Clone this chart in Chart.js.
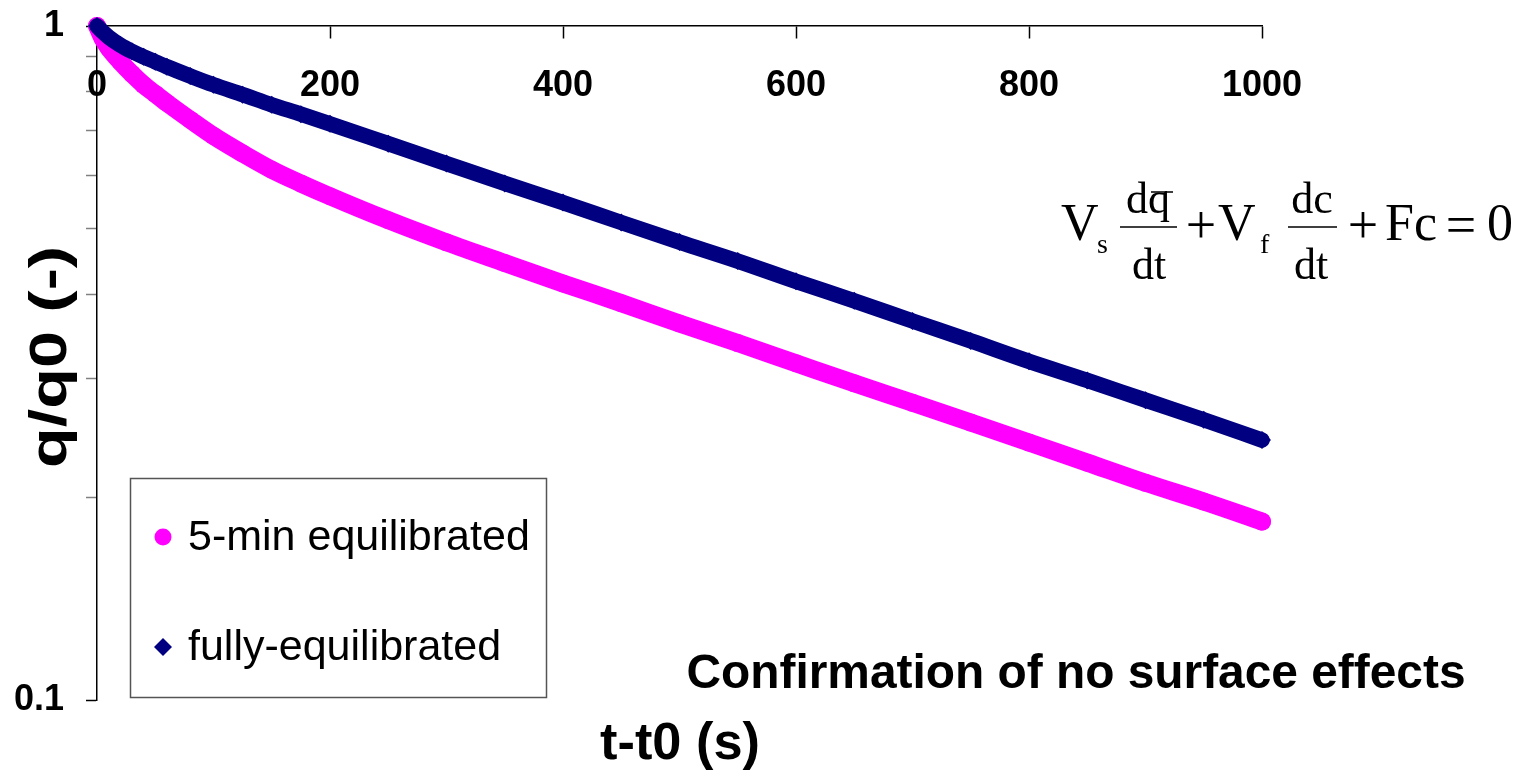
<!DOCTYPE html>
<html>
<head>
<meta charset="utf-8">
<script src="https://cdn.jsdelivr.net/npm/chart.js@4.4.1/dist/chart.umd.min.js"></script>
<style>
  html, body { margin: 0; padding: 0; background: #ffffff; }
  #wrap { width: 1530px; height: 774px; position: relative; }
</style>
</head>
<body>
<div id="wrap"><canvas id="c" width="1530" height="774"></canvas></div>
<script>
// Elapsed time t - t0 (s)
const times = [0, 5, 10, 20, 30, 40, 50, 60, 80, 100, 125, 150, 175, 200, 250, 300, 350, 400, 450, 500, 550, 600, 650, 700, 750, 800, 850, 900, 950, 1000];
// Normalised loading q/q0, 5-min equilibrated sample
const fiveMin = [1.000, 0.957, 0.928, 0.885, 0.849, 0.818, 0.793, 0.769, 0.726, 0.687, 0.647, 0.612, 0.584, 0.559, 0.515, 0.4775, 0.445, 0.415, 0.388, 0.362, 0.3385, 0.316, 0.295, 0.276, 0.258, 0.241, 0.225, 0.210, 0.197, 0.184];
// Normalised loading q/q0, fully-equilibrated sample
const fullyEq = [1.000, 0.980, 0.963, 0.937, 0.917, 0.900, 0.885, 0.870, 0.843, 0.818, 0.791, 0.764, 0.740, 0.716, 0.669, 0.625, 0.584, 0.547, 0.511, 0.478, 0.448, 0.418, 0.391, 0.365, 0.341, 0.318, 0.298, 0.2785, 0.2605, 0.243];

const seriesNames = ['5-min equilibrated', 'fully-equilibrated'];
const xTickValues = [0, 200, 400, 600, 800, 1000];
const yTickValues = [0.1, 0.2, 0.3, 0.4, 0.5, 0.6, 0.7, 0.8, 0.9, 1];
const yLabelled = [0.1, 1];

const PINK = '#ff00ff';
const NAVY = '#000080';
const SANS = '"Liberation Sans", Arial, sans-serif';
const SERIF = '"Liberation Serif", "Times New Roman", serif';

function pairs(xs, ys) { return xs.map((x, i) => ({ x: x, y: ys[i] })); }
function isLabelled(v) { return yLabelled.some(l => Math.abs(l - v) < 1e-9); }

// text centred on (x, y), squeezed or stretched along its run to a given length
function fitText(ctx, text, x, y, length, angle) {
  const w = ctx.measureText(text).width;
  ctx.save();
  ctx.translate(x, y);
  if (angle) ctx.rotate(angle);
  ctx.scale(length / w, 1);
  ctx.textAlign = 'center';
  ctx.textBaseline = 'middle';
  ctx.fillText(text, 0, 0);
  ctx.restore();
}

// Annotations: legend box, axis titles, caption and the balance equation
const overlay = {
  id: 'overlay',
  afterDraw(chart) {
    const ctx = chart.ctx;
    ctx.save();

    // legend
    ctx.strokeStyle = '#555555';
    ctx.lineWidth = 1.5;
    ctx.strokeRect(130.5, 478.5, 416, 219);
    const rows = [537, 647];
    ctx.font = '43px ' + SANS;
    ctx.textBaseline = 'middle';
    ctx.textAlign = 'left';
    rows.forEach((yy, i) => {
      const ds = chart.data.datasets[i];
      ctx.fillStyle = ds.backgroundColor;
      ctx.beginPath();
      if (ds.pointStyle === 'circle') {
        ctx.arc(163, yy, 8.5, 0, Math.PI * 2);
      } else {
        ctx.moveTo(163, yy - 9); ctx.lineTo(172, yy); ctx.lineTo(163, yy + 9); ctx.lineTo(154, yy);
        ctx.closePath();
      }
      ctx.fill();
      ctx.fillStyle = '#000';
      ctx.fillText(seriesNames[i], 188, yy + 1);
    });

    // axis titles
    ctx.fillStyle = '#000';
    ctx.font = 'bold 52px ' + SANS;
    fitText(ctx, 't-t0 (s)', 680, 745, 160, 0);
    fitText(ctx, 'q/q0 (-)', 52, 357, 222, -Math.PI / 2);

    // caption
    ctx.font = 'bold 48px ' + SANS;
    fitText(ctx, 'Confirmation of no surface effects', 1076, 675, 779, 0);

    // equation
    ctx.textBaseline = 'alphabetic';
    ctx.textAlign = 'left';
    ctx.font = '52px ' + SERIF;
    ctx.fillText('V', 1061, 240);
    ctx.fillText('V', 1218, 240);
    ctx.fillText('Fc', 1385, 240);
    ctx.fillText('0', 1487, 240);
    ctx.font = '28px ' + SERIF;
    ctx.fillText('s', 1097, 253);
    ctx.fillText('f', 1260, 253);
    ctx.textAlign = 'center';
    ctx.font = '54px ' + SERIF;
    ctx.textBaseline = 'middle';
    ctx.fillText('+', 1201, 229);
    ctx.fillText('+', 1363, 229);
    ctx.fillText('=', 1461, 229);
    ctx.textBaseline = 'alphabetic';
    ctx.font = '44px ' + SERIF;
    ctx.fillText('dq', 1148, 213);
    ctx.fillText('dt', 1149, 279);
    ctx.fillText('dc', 1312, 213);
    ctx.fillText('dt', 1311, 279);
    ctx.strokeStyle = '#000';
    ctx.lineWidth = 1.5;
    ctx.beginPath();
    ctx.moveTo(1120, 227); ctx.lineTo(1177, 227);
    ctx.moveTo(1288, 227); ctx.lineTo(1337, 227);
    ctx.moveTo(1151, 192); ctx.lineTo(1173, 192);
    ctx.stroke();

    ctx.restore();
  }
};

new Chart(document.getElementById('c').getContext('2d'), {
  type: 'line',
  data: {
    datasets: [
      {
        label: seriesNames[0],
        data: pairs(times, fiveMin),
        borderColor: PINK,
        backgroundColor: PINK,
        borderWidth: 18,
        borderCapStyle: 'round',
        borderJoinStyle: 'round',
        cubicInterpolationMode: 'monotone',
        pointStyle: 'circle',
        pointRadius: 9,
        pointBorderWidth: 0,
        pointBackgroundColor: PINK,
        clip: false,
        order: 2
      },
      {
        label: seriesNames[1],
        data: pairs(times, fullyEq),
        borderColor: NAVY,
        backgroundColor: NAVY,
        borderWidth: 15.5,
        borderCapStyle: 'round',
        borderJoinStyle: 'round',
        cubicInterpolationMode: 'monotone',
        pointStyle: 'rectRot',
        pointRadius: 9,
        pointBorderWidth: 0,
        pointBackgroundColor: NAVY,
        clip: false,
        order: 1
      }
    ]
  },
  options: {
    responsive: false,
    animation: false,
    devicePixelRatio: 1,
    layout: { padding: { left: 0, right: 268, top: 26, bottom: 74 } },
    plugins: { legend: { display: false }, tooltip: { enabled: false } },
    scales: {
      x: {
        type: 'linear',
        min: 0,
        max: 1000,
        position: { y: 1 },
        afterFit(s) { s.height = 0; s.paddingLeft = 0; s.paddingRight = 0; },
        afterBuildTicks(s) { s.ticks = xTickValues.map(v => ({ value: v })); },
        border: { display: true, color: '#000', width: 1.5 },
        grid: { drawOnChartArea: false, drawTicks: true, tickLength: 12, tickColor: '#000', tickWidth: 1.5 },
        ticks: {
          color: '#000',
          padding: 26,
          maxRotation: 0,
          font: { family: SANS, size: 36, weight: 'bold' },
          callback: v => String(v)
        }
      },
      y: {
        type: 'logarithmic',
        min: 0.1,
        max: 1,
        position: 'left',
        afterFit(s) { s.width = 97; s.paddingTop = 0; s.paddingBottom = 0; },
        afterBuildTicks(s) { s.ticks = yTickValues.map(v => ({ value: v })); },
        border: { display: true, color: '#000', width: 1.5 },
        grid: {
          drawOnChartArea: false,
          drawTicks: true,
          tickLength: 11,
          tickWidth: 1.5,
          tickColor: c => (c.tick && isLabelled(c.tick.value)) ? '#000' : '#808080'
        },
        ticks: {
          color: '#000',
          padding: 22,
          autoSkip: false,
          font: { family: SANS, size: 36, weight: 'bold' },
          callback: v => isLabelled(v) ? String(v) : ''
        }
      }
    }
  },
  plugins: [overlay]
});
</script>
</body>
</html>
